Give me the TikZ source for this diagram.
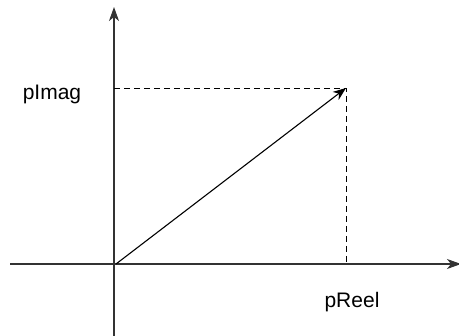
\documentclass[tikz,border=0pt]{standalone}
\usepackage{fontspec}
\setmainfont{Liberation Sans}
\usetikzlibrary{arrows.meta}
\begin{document}
\begin{tikzpicture}[x=1pt,y=-1pt,
  axis/.style={line width=1.1pt,draw=black!80,-{Stealth[length=14pt,width=10pt,inset=4pt]}},
  vec/.style={line width=1.1pt,-{Stealth[length=13pt,width=10pt,inset=4pt]}},
  guide/.style={line width=0.9pt,dash pattern=on 6pt off 4pt},
  lbl/.style={font=\fontsize{21}{25}\selectfont,inner sep=0pt}]
\useasboundingbox (0,0) rectangle (459,336);
\coordinate (xs) at (10,264);
\coordinate (xe) at (461,264);
\coordinate (ys) at (114,336);
\coordinate (ye) at (114,7);
\coordinate (o) at (116,264);
\coordinate (p) at (346,88);
\coordinate (py) at (114,88);
\coordinate (px) at (346,264);
\draw[axis] (xs) -- (xe);
\draw[axis] (ys) -- (ye);
\draw[guide] (py) -- (p) -- (px);
\draw[vec] (o) -- (p);
\node[lbl] (im) at (52,94) {pImag};
\node[lbl] (re) at (352,302) {pReel};
\end{tikzpicture}
\end{document}
